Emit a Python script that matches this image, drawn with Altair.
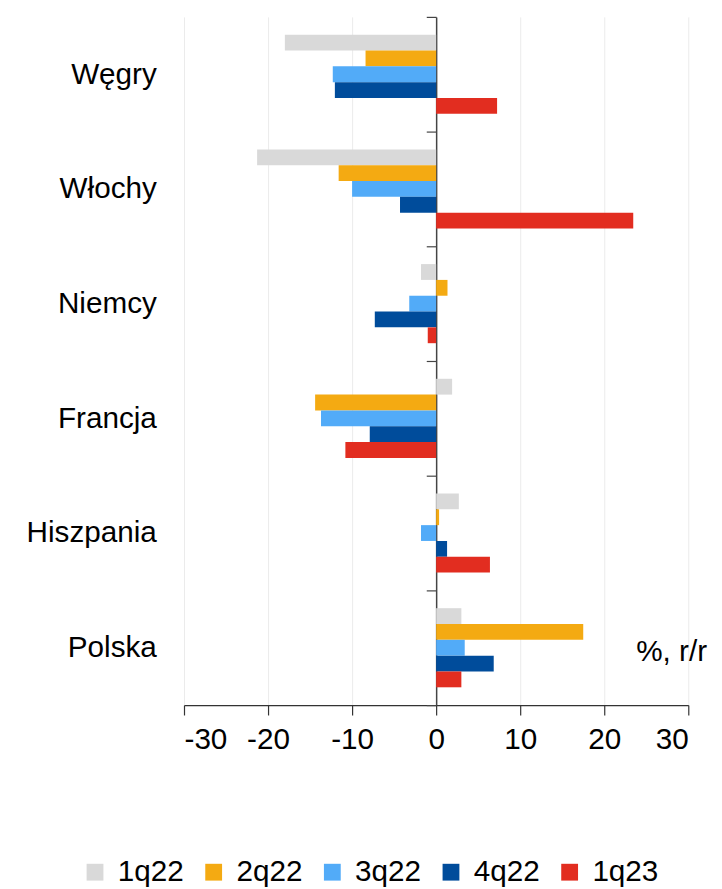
import altair as alt
import pandas as pd

countries = ["Węgry", "Włochy", "Niemcy", "Francja", "Hiszpania", "Polska"]
series = ["1q22", "2q22", "3q22", "4q22", "1q23"]
colors = ["#D9D9D9", "#F4AA12", "#52ABF8", "#004C9B", "#E22D20"]

v_1q22 = [-18.0, -21.3, -1.8, 1.9, 2.7, 3.0]
v_2q22 = [-8.4, -11.6, 1.35, -14.4, 0.35, 17.5]
v_3q22 = [-12.3, -10.0, -3.2, -13.7, -1.8, 3.4]
v_4q22 = [-12.05, -4.3, -7.3, -7.9, 1.3, 6.85]
v_1q23 = [7.25, 23.45, -1.0, -10.8, 6.4, 3.0]

x_ticks = [-30, -20, -10, 0, 10, 20, 30]
unit_label = "%, r/r"

vals = [v_1q22, v_2q22, v_3q22, v_4q22, v_1q23]
rows = []
for s, vs in zip(series, vals):
    for c, v in zip(countries, vs):
        rows.append({"country": c, "series": s, "value": v})
df = pd.DataFrame(rows)

FONT = "Liberation Sans"
W, H = 510, 696

bars = alt.Chart(df).mark_bar(stroke=None).encode(
    x=alt.X("value:Q",
            scale=alt.Scale(domain=[-30, 30], nice=False, zero=False),
            axis=alt.Axis(values=x_ticks, title=None, grid=True, gridColor="#EBEBEB",
                          gridWidth=1, domainColor="#333333", domainWidth=1.2,
                          tickColor="#333333", tickSize=10, tickWidth=1.2,
                          labelFontSize=30, labelFont=FONT, labelColor="#000000",
                          labelPadding=10, labelExpr="'' + datum.value")),
    y=alt.Y("country:N", sort=countries,
            scale=alt.Scale(paddingInner=0, paddingOuter=0),
            axis=alt.Axis(title=None, orient="left", offset=-255, tickBand="extent",
                          domainColor="#444444", domainWidth=1.5,
                          tickColor="#444444", tickSize=10, tickWidth=1.2,
                          labelFontSize=30, labelFont=FONT, labelColor="#000000",
                          labelPadding=273, grid=False)),
    yOffset=alt.YOffset("series:N", sort=series,
                        scale=alt.Scale(range=[18, 98], paddingInner=0, paddingOuter=0)),
    color=alt.Color("series:N", sort=series,
                    scale=alt.Scale(domain=series, range=colors),
                    legend=alt.Legend(title=None, orient="none", direction="horizontal",
                                      legendX=-105, legendY=850,
                                      symbolType="square", symbolSize=289,
                                      symbolStrokeWidth=0, labelFontSize=30,
                                      labelFont=FONT, labelColor="#000000",
                                      labelOffset=8, columnPadding=15)),
)

unit = alt.Chart(pd.DataFrame({"t": [unit_label]})).mark_text(
    align="right", baseline="middle", fontSize=30, font=FONT, color="#000000"
).encode(text="t:N", x=alt.value(529), y=alt.value(642))

chart = alt.layer(bars, unit).properties(
    width=W, height=H,
    autosize=alt.AutoSizeParams(type="none"),
    padding={"left": 178, "top": 4, "right": 26, "bottom": 181},
).configure_view(stroke=None)

chart.save("out.html", embed_options={"renderer": "svg", "actions": False})
